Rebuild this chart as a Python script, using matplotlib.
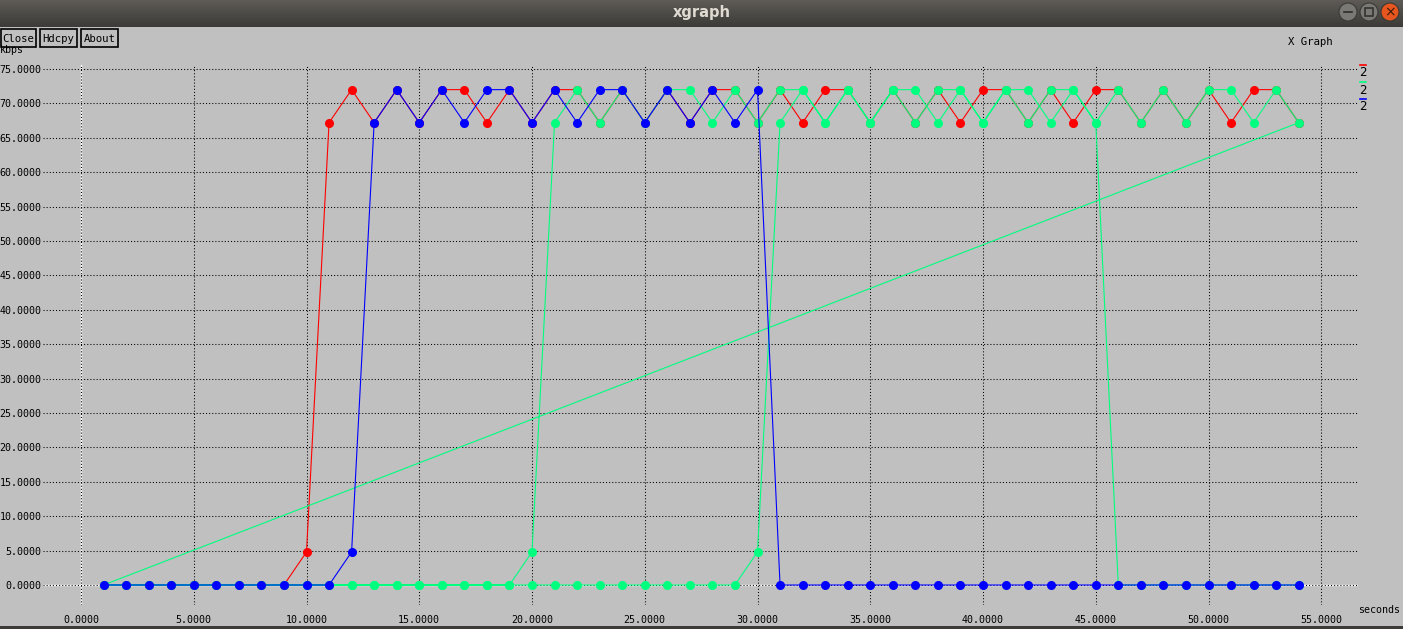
import numpy as np
import matplotlib
matplotlib.use('Agg')
import matplotlib.pyplot as plt
from matplotlib.patches import Rectangle, Circle

# --- данные (время в секундах, пропускная способность в kbps) ---
seconds = list(range(1, 55))

red_kbps = [0, 0, 0, 0, 0, 0, 0, 0, 0, 4.8,
            67.2, 72, 67.2, 72, 67.2, 72, 72, 67.2, 72, 67.2,
            72, 72, 67.2, 72, 67.2, 72, 67.2, 72, 72, 67.2,
            72, 67.2, 72, 72, 67.2, 72, 67.2, 72, 67.2, 72,
            72, 67.2, 72, 67.2, 72, 72, 67.2, 72, 67.2, 72,
            67.2, 72, 72, 67.2]

# зелёный набор: два потока подряд в одном файле
green_kbps_b = [0, 0, 0, 0, 0, 0, 0, 0, 0, 0,
                0, 0, 0, 0, 0, 0, 0, 0, 0, 0,
                0, 0, 0, 0, 0, 0, 0, 0, 0, 4.8,
                67.2, 72, 67.2, 72, 67.2, 72, 67.2, 72, 72, 67.2,
                72, 67.2, 72, 72, 67.2, 72, 67.2, 72, 67.2, 72,
                72, 67.2, 72, 67.2]
green_kbps_a = [0, 0, 0, 0, 0, 0, 0, 0, 0, 0,
                0, 0, 0, 0, 0, 0, 0, 0, 0, 4.8,
                67.2, 72, 67.2, 72, 67.2, 72, 72, 67.2, 72, 67.2,
                72, 72, 67.2, 72, 67.2, 72, 72, 67.2, 72, 67.2,
                72, 72, 67.2, 72, 67.2, 0, 0, 0, 0, 0,
                0, 0, 0, 0]

blue_kbps = [0, 0, 0, 0, 0, 0, 0, 0, 0, 0,
             0, 4.8, 67.2, 72, 67.2, 72, 67.2, 72, 72, 67.2,
             72, 67.2, 72, 72, 67.2, 72, 67.2, 72, 67.2, 72,
             0, 0, 0, 0, 0, 0, 0, 0, 0, 0,
             0, 0, 0, 0, 0, 0, 0, 0, 0, 0,
             0, 0, 0, 0]

legend_labels = ['2', '2', '2']
x_ticks = list(range(0, 60, 5))
y_ticks = list(range(0, 80, 5))

W, H = 1403, 629
BG = '#c0c0c0'
MONO = 'DejaVu Sans Mono'
FS = 7.2
RED, GREEN, BLUE = '#ff0000', '#00ff7f', '#0000ff'

fig = plt.figure(figsize=(W / 100, H / 100), dpi=100, facecolor=BG)

# область графика (в пикселях окна)
pl, pr, pt, pb = 43, 1358, 65, 605
x0px, xs = 81, 22.55
y0px, ys = 585, 6.88
ax = fig.add_axes([pl / W, 1 - pb / H, (pr - pl) / W, (pb - pt) / H])
ax.set_facecolor('none')
ax.set_xlim((pl - x0px) / xs, (pr - x0px) / xs)
ax.set_ylim(-(pb - y0px) / ys, (y0px - pt) / ys)
for s in ax.spines.values():
    s.set_visible(False)

ax.set_xticks(x_ticks, [f'{v:.4f}' for v in x_ticks])
ax.set_yticks(y_ticks, [f'{v:.4f}' for v in y_ticks])
ax.tick_params(length=0, labelsize=FS, colors='black')
ax.tick_params(axis='x', pad=7)
ax.tick_params(axis='y', pad=1)
for lab in ax.get_xticklabels() + ax.get_yticklabels():
    lab.set_family(MONO)
ax.grid(True, color='black', linestyle=(0, (1, 2)), linewidth=0.75)
ax.axhline(0, color='white', lw=1, zorder=1.5)
ax.axvline(0, color='white', lw=1, zorder=1.5)

style = dict(lw=0.8, marker='o', ms=5.5, zorder=3)
ax.plot(seconds, red_kbps, color=RED, mec=RED, **style)
ax.plot(seconds + seconds, green_kbps_b + green_kbps_a, color=GREEN, mec=GREEN, **style)
ax.plot(seconds, blue_kbps, color=BLUE, mec=BLUE, **style)

# --- оформление окна xgraph ---
ov = fig.add_axes([0, 0, 1, 1], zorder=5)
ov.patch.set_visible(False)
ov.axis('off')

grad = np.linspace(0, 1, 27).reshape(-1, 1)
ov.imshow(grad, extent=(0, W, 27, 0), aspect='auto',
          cmap=matplotlib.colors.LinearSegmentedColormap.from_list('tb', ['#5e5b56', '#3c3b37']))
ov.text(W / 2, 13, 'xgraph', ha='center', va='center', color='#dfdbd2',
        fontsize=10.5, fontweight='bold')
for cx, fc in [(1348, '#7a7975'), (1369, '#7a7975'), (1390, '#e8561f')]:
    ov.add_patch(Circle((cx, 12), 9, facecolor=fc, edgecolor='#3a3935', lw=0.8))
ov.plot([1344, 1352], [12, 12], color='#2e2d2a', lw=1.2)
ov.add_patch(Rectangle((1365, 8), 8, 8, fill=False, edgecolor='#2e2d2a', lw=1.1))
ov.text(1390, 12, '×', ha='center', va='center', color='#3a1a0a', fontsize=10)

ov.text(0, 53, 'kbps', ha='left', va='baseline', fontsize=FS, family=MONO)
for x1, x2, name in [(1, 36, 'Close'), (40, 77, 'Hdcpy'), (81, 118, 'About')]:
    ov.add_patch(Rectangle((x1, 29), x2 - x1, 18, facecolor=BG, edgecolor='black', lw=1.2))
    ov.text((x1 + x2) / 2, 38.5, name, ha='center', va='center', fontsize=FS + 0.5, family=MONO)

ov.text(1310, 42, 'X Graph', ha='center', va='center', fontsize=FS + 0.5, family=MONO)
ov.text(1358, 610, 'seconds', ha='left', va='center', fontsize=FS, family=MONO)

for i, (lab, col) in enumerate(zip(legend_labels, [RED, GREEN, BLUE])):
    yb = 65 + 17 * i
    ov.plot([1360, 1366], [yb, yb], color=col, lw=1.2)
    ov.text(1359.5, yb + 1.5, lab, ha='left', va='top', fontsize=9, family=MONO)

ov.add_patch(Rectangle((0, 626), W, 3, facecolor='#3c3b37', edgecolor='none'))
ov.set_xlim(0, W)
ov.set_ylim(H, 0)

fig.savefig('out.png', dpi=100, facecolor=BG)
plt.close(fig)
